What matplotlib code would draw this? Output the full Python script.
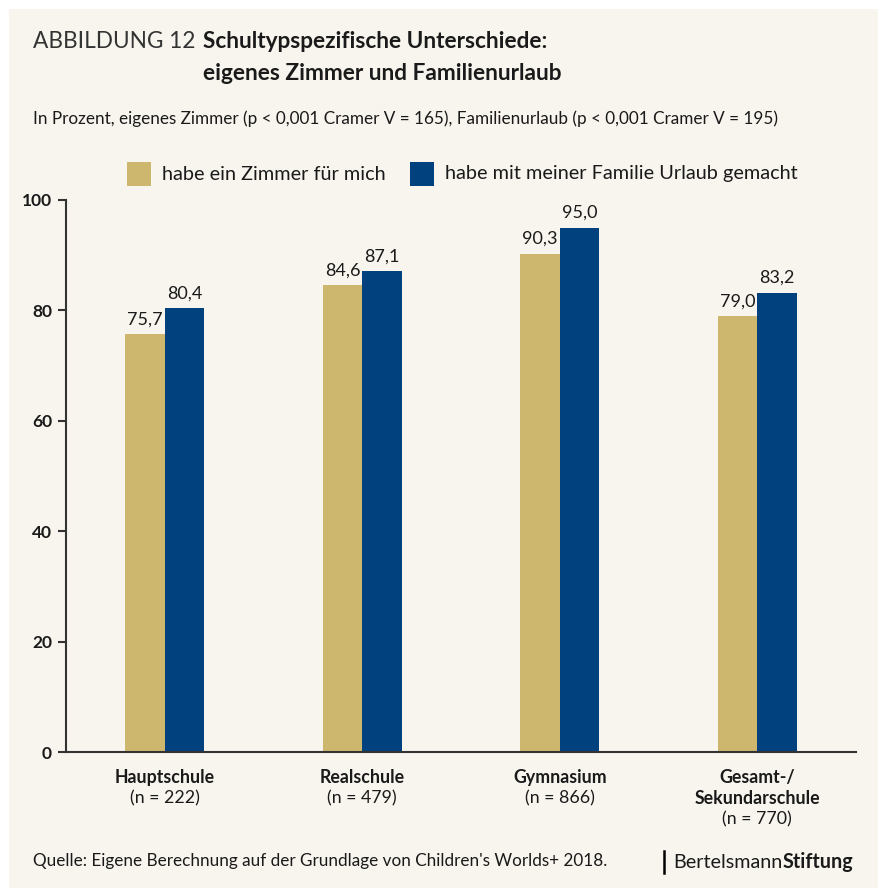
import matplotlib.pyplot as plt
from matplotlib.patches import Rectangle
import numpy as np

# Daten
schulen = ["Hauptschule", "Realschule", "Gymnasium", "Gesamt-/\nSekundarschule"]
n_werte = ["(n = 222)", "(n = 479)", "(n = 866)", "(n = 770)"]
zimmer = [75.7, 84.6, 90.3, 79.0]
urlaub = [80.4, 87.1, 95.0, 83.2]
y_ticks = [0, 20, 40, 60, 80, 100]
legende = ["habe ein Zimmer für mich", "habe mit meiner Familie Urlaub gemacht"]

gold = "#CDB76E"
blau = "#00417E"
creme = "#F8F5EE"
text_farbe = "#1a1a1a"

plt.rcParams["font.family"] = ["Lato", "DejaVu Sans"]

W, H = 879, 888
fig = plt.figure(figsize=(W / 100, H / 100), dpi=100)
fig.patch.set_facecolor("white")


def px(x, y):
    return x / W, 1 - y / H


# cremefarbener Hintergrund
fig.patches.append(Rectangle((9 / W, 0), 1 - 9 / W, 1 - 9 / H,
                             transform=fig.transFigure, facecolor=creme,
                             edgecolor="none", zorder=-10))

# Titel
fig.text(*px(33, 41), "ABBILDUNG 12", fontsize=16.3, fontweight="normal",
         color="#333333", va="center", ha="left")
fig.text(*px(203, 41), "Schultypspezifische Unterschiede:", fontsize=16.3,
         fontweight="bold", color=text_farbe, va="center", ha="left")
fig.text(*px(203, 73), "eigenes Zimmer und Familienurlaub", fontsize=16.3,
         fontweight="bold", color=text_farbe, va="center", ha="left")
fig.text(*px(33, 119),
         "In Prozent, eigenes Zimmer (p < 0,001 Cramer V = 165), Familienurlaub (p < 0,001 Cramer V = 195)",
         fontsize=12.3, color=text_farbe, va="center", ha="left")

# Diagramm
ax = fig.add_axes([66 / W, (H - 752) / H, (856 - 66) / W, (752 - 200) / H])
ax.set_facecolor("none")
x = np.arange(len(schulen))
breite = 0.2
b1 = ax.bar(x - breite / 2, zimmer, breite, color=gold)
b2 = ax.bar(x + breite / 2, urlaub, breite, color=blau)

for bars, werte in [(b1, zimmer), (b2, urlaub)]:
    for b, v in zip(bars, werte):
        ax.text(b.get_x() + b.get_width() / 2, v + 1.2, f"{v:.1f}".replace(".", ","),
                ha="center", va="bottom", fontsize=13, color=text_farbe)

ax.set_xlim(-0.5, 3.5)
ax.set_ylim(0, 100)
ax.set_yticks(y_ticks)
ax.set_yticklabels([str(t) for t in y_ticks], fontweight="bold", fontsize=12.5, color=text_farbe)
ax.tick_params(axis="y", length=6, width=1.5, color="#333333", pad=4, direction="out")
ax.set_xticks([])
for s in ["top", "right"]:
    ax.spines[s].set_visible(False)
for s in ["left", "bottom"]:
    ax.spines[s].set_color("#333333")
    ax.spines[s].set_linewidth(1.5)

# x-Beschriftungen
for i, (name, n) in enumerate(zip(schulen, n_werte)):
    xf = ax.transData.transform((i, 0))[0] / W
    zeilen = name.split("\n")
    for k, z in enumerate(zeilen):
        fig.text(xf, 1 - (777 + 21 * k) / H, z, fontweight="bold", fontsize=12.8,
                 ha="center", va="center", color=text_farbe)
    fig.text(xf, 1 - (777 + 21 * len(zeilen)) / H, n, fontsize=12.8,
             ha="center", va="center", color=text_farbe)

# Legende (manuell, quadratische Felder)
for farbe, label, x0 in [(gold, legende[0], 127), (blau, legende[1], 410)]:
    fig.patches.append(Rectangle((x0 / W, 1 - 186 / H), 24 / W, 24 / H,
                                 transform=fig.transFigure, facecolor=farbe,
                                 edgecolor="none"))
    fig.text(*px(x0 + 35, 174), label, fontsize=14.3, color=text_farbe,
             va="center", ha="left")

# Quelle und Logo
fig.text(*px(33, 861), "Quelle: Eigene Berechnung auf der Grundlage von Children's Worlds+ 2018.",
         fontsize=12.3, color=text_farbe, va="center", ha="left")
fig.add_artist(plt.Line2D([664 / W, 664 / W], [1 - 851 / H, 1 - 873 / H],
                          transform=fig.transFigure, color="black", linewidth=1.8))
t = fig.text(*px(673, 862), "Bertelsmann", fontsize=14.2, color=text_farbe,
             va="center", ha="left")
fig.canvas.draw()
bb = t.get_window_extent()
fig.text(bb.x1 / W, 1 - 862 / H, "Stiftung", fontsize=14.2, fontweight="bold",
         color=text_farbe, va="center", ha="left")

fig.savefig("out.png", dpi=100, facecolor=fig.get_facecolor())
